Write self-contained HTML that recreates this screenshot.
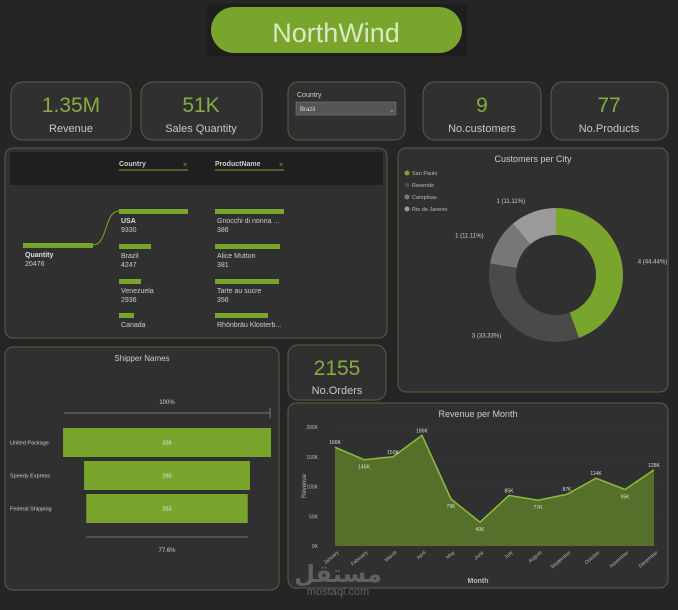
<!DOCTYPE html>
<html><head><meta charset="utf-8"><style>
body{margin:0;width:678px;height:610px;background:#252525;overflow:hidden;font-family:"Liberation Sans",sans-serif;}
svg{position:absolute;left:0;top:0}
</style></head><body>
<svg width="678" height="610" viewBox="0 0 678 610" font-family="Liberation Sans, sans-serif">
<rect x="0" y="0" width="678" height="610" fill="#252525"/>
<g>
<rect x="207" y="4" width="260" height="52" fill="#1a1a1a" opacity="0.6"/>
<rect x="211" y="7" width="251" height="46" rx="23" fill="#7aa52c"/>
<text x="336" y="42" text-anchor="middle" font-size="27" fill="#d9e9c6">NorthWind</text>
</g>
<g>
<rect x="11" y="82" width="120" height="58" rx="12" fill="#303030" stroke="#56613e"/>
<text x="71" y="112" text-anchor="middle" font-size="21" fill="#86ac40">1.35M</text>
<text x="71" y="132" text-anchor="middle" font-size="11" fill="#c8c8c8">Revenue</text></g>
<g>
<rect x="141" y="82" width="121" height="58" rx="12" fill="#303030" stroke="#56613e"/>
<text x="201" y="112" text-anchor="middle" font-size="21" fill="#86ac40">51K</text>
<text x="201" y="132" text-anchor="middle" font-size="11" fill="#c8c8c8">Sales Quantity</text></g>
<g>
<rect x="288" y="82" width="117" height="58" rx="10" fill="#303030" stroke="#56613e"/>
<text x="297" y="97" font-size="7" fill="#cfcfcf">Country</text>
<rect x="296" y="102" width="100" height="13" fill="#555" stroke="#888" stroke-width="0.5"/>
<text x="300" y="111" font-size="6" fill="#ddd">Brazil</text>
<text x="389" y="112" font-size="7" fill="#bbb">⌄</text></g>
<g>
<rect x="423" y="82" width="118" height="58" rx="12" fill="#303030" stroke="#56613e"/>
<text x="482" y="112" text-anchor="middle" font-size="21" fill="#86ac40">9</text>
<text x="482" y="132" text-anchor="middle" font-size="11" fill="#c8c8c8">No.customers</text></g>
<g>
<rect x="551" y="82" width="117" height="58" rx="12" fill="#303030" stroke="#56613e"/>
<text x="609" y="112" text-anchor="middle" font-size="21" fill="#86ac40">77</text>
<text x="609" y="132" text-anchor="middle" font-size="11" fill="#c8c8c8">No.Products</text></g>

<g>
<rect x="5" y="148" width="382" height="190" rx="8" fill="#303030" stroke="#56613e"/>
<rect x="10" y="152" width="373" height="33" fill="#1f1f1f"/>
<text x="119" y="166" font-size="7" font-weight="bold" fill="#ccc">Country</text>
<line x1="119" y1="170" x2="188" y2="170" stroke="#7aa52c"/>
<text x="183" y="167" font-size="7" fill="#999">×</text>
<text x="215" y="166" font-size="7" font-weight="bold" fill="#ccc">ProductName</text>
<line x1="215" y1="170" x2="284" y2="170" stroke="#7aa52c"/>
<text x="279" y="167" font-size="7" fill="#999">×</text>
<rect x="23" y="243" width="70" height="5" fill="#7aa52c"/>
<text x="25" y="257" font-size="7" font-weight="bold" fill="#ddd">Quantity</text>
<text x="25" y="266" font-size="7" fill="#ccc">20476</text>
<path d="M93 245 C108 245,104 211,119 211" stroke="#7aa52c" fill="none"/>
<rect x="119" y="209" width="69" height="5" fill="#7aa52c"/><text x="121" y="223" font-size="7" font-weight="bold" fill="#ddd">USA</text><text x="121" y="232" font-size="7" fill="#ccc">9330</text>
<rect x="119" y="244" width="32" height="5" fill="#7aa52c"/><text x="121" y="258" font-size="7" fill="#ccc">Brazil</text><text x="121" y="267" font-size="7" fill="#ccc">4247</text>
<rect x="119" y="279" width="22" height="5" fill="#7aa52c"/><text x="121" y="293" font-size="7" fill="#ccc">Venezuela</text><text x="121" y="302" font-size="7" fill="#ccc">2936</text>
<rect x="119" y="313" width="15" height="5" fill="#7aa52c"/><text x="121" y="327" font-size="7" fill="#ccc">Canada</text>
<rect x="215" y="209" width="69" height="5" fill="#7aa52c"/><text x="217" y="223" font-size="7" fill="#ccc">Gnocchi di nonna ...</text><text x="217" y="232" font-size="7" fill="#ccc">386</text>
<rect x="215" y="244" width="65" height="5" fill="#7aa52c"/><text x="217" y="258" font-size="7" fill="#ccc">Alice Mutton</text><text x="217" y="267" font-size="7" fill="#ccc">381</text>
<rect x="215" y="279" width="64" height="5" fill="#7aa52c"/><text x="217" y="293" font-size="7" fill="#ccc">Tarte au sucre</text><text x="217" y="302" font-size="7" fill="#ccc">356</text>
<rect x="215" y="313" width="53" height="5" fill="#7aa52c"/><text x="217" y="327" font-size="7" fill="#ccc">Rhönbräu Klosterb...</text>
</g>

<g id="donut">
<rect x="398" y="148" width="270" height="244" rx="8" fill="#303030" stroke="#56613e"/>
<text x="533" y="162" text-anchor="middle" font-size="9" fill="#ccc">Customers per City</text>
</g>

<g id="funnel">
<rect x="5" y="347" width="274" height="243" rx="8" fill="#303030" stroke="#56613e"/>
<text x="142" y="361" text-anchor="middle" font-size="8" fill="#ccc">Shipper Names</text>
</g>

<g>
<rect x="288" y="345" width="98" height="55" rx="10" fill="#303030" stroke="#56613e"/>
<text x="337" y="375" text-anchor="middle" font-size="21" fill="#86ac40">2155</text>
<text x="337" y="394" text-anchor="middle" font-size="11" fill="#c8c8c8">No.Orders</text></g>

<g id="area">
<rect x="288" y="403" width="380" height="185" rx="8" fill="#303030" stroke="#56613e"/>
<text x="478" y="417" text-anchor="middle" font-size="9" fill="#ccc">Revenue per Month</text>
<text x="306" y="486" font-size="6" fill="#bbb" transform="rotate(-90 306 486)" text-anchor="middle">Revenue</text>
<text x="478" y="583" text-anchor="middle" font-size="7" fill="#bbb" font-weight="bold">Month</text>
</g>
<text x="338" y="582" text-anchor="middle" font-size="24" font-weight="bold" fill="#8a8a8a" opacity="0.55" font-family="DejaVu Sans, sans-serif">مستقل</text>
<text x="338" y="595" text-anchor="middle" font-size="11" fill="#8a8a8a" opacity="0.6">mostaql.com</text>
</svg>
<script>
const NS='http://www.w3.org/2000/svg';
function mk(t,a,p){const e=document.createElementNS(NS,t);for(const k in a)e.setAttribute(k,a[k]);p.appendChild(e);return e;}
// Donut data
const cities=['San Paulo','Resende','Campinas','Rio de Janeiro'];
const cityCounts=[4,3,1,1];
const cityColors=['#7aa52c','#4a4a4a','#777777','#9a9a9a'];
// Funnel data
const shippers=['United Package','Speedy Express','Federal Shipping'];
const shipperOrders=[326,260,253];
// Area data
const months=['January','February','March','April','May','June','July','August','September','October','November','December'];
const revenue=[166,145,150,186,79,40,85,77,87,114,95,128];
const revTicks=[0,50,100,150,200];

// donut
(function(){
 const g=document.getElementById('donut');const cx=556,cy=275,R=67,r=40;
 const tot=cityCounts.reduce((a,b)=>a+b,0);let a0=-Math.PI/2;
 cityCounts.forEach((v,i)=>{
  const a1=a0+v/tot*2*Math.PI;const lg=(a1-a0)>Math.PI?1:0;
  const p=(rr,a)=>[cx+rr*Math.cos(a),cy+rr*Math.sin(a)];
  const [x1,y1]=p(R,a0),[x2,y2]=p(R,a1),[x3,y3]=p(r,a1),[x4,y4]=p(r,a0);
  const s=mk('path',{d:`M${x1} ${y1}A${R} ${R} 0 ${lg} 1 ${x2} ${y2}L${x3} ${y3}A${r} ${r} 0 ${lg} 0 ${x4} ${y4}Z`,fill:cityColors[i]},g);
  
  
  const am=(a0+a1)/2;const [lx,ly]=p(R+12,am);
  const t=mk('text',{x:lx+(Math.cos(am)>0?4:-4),y:ly+2,'font-size':6,fill:'#ccc','text-anchor':Math.cos(am)>0?'start':'end'},g);
  t.textContent=v+' ('+(v/tot*100).toFixed(2)+'%)';
  
  
  const lgd=mk('circle',{cx:407,cy:173+i*12,r:2.5,fill:cityColors[i]},g);
  
  
  const lt=mk('text',{x:412,y:175+i*12,'font-size':5.5,fill:'#bbb'},g);lt.textContent=cities[i];
  
  
  a0=a1;
 });
})();

// funnel
(function(){
 const g=document.getElementById('funnel');const cx=167,maxW=208,y0=428,h=29,gap=4;
 const mx=Math.max(...shipperOrders);
 mk('line',{x1:64,y1:413,x2:270,y2:413,stroke:'#777'},g);
 mk('line',{x1:270,y1:408,x2:270,y2:418,stroke:'#777'},g);
 const t0=mk('text',{x:167,y:404,'font-size':6,fill:'#ccc','text-anchor':'middle'},g);t0.textContent='100%';
 shipperOrders.forEach((v,i)=>{
  const w=v/mx*maxW,y=y0+i*(h+gap);
  const b=mk('rect',{x:cx-w/2,y:y,width:w,height:h,fill:'#7aa52c'},g);
  
  
  const vt=mk('text',{x:cx,y:y+h/2+2,'font-size':5.5,fill:'#e8e8e8','text-anchor':'middle'},g);vt.textContent=v;
  const lt=mk('text',{x:10,y:y+h/2+2,'font-size':5.5,fill:'#ccc'},g);lt.textContent=shippers[i];
  
  
 });
 const last=shipperOrders[shipperOrders.length-1]/mx*maxW;
 mk('line',{x1:cx-last/2,y1:537,x2:cx+last/2,y2:537,stroke:'#777'},g);
 const t1=mk('text',{x:167,y:552,'font-size':6,fill:'#ccc','text-anchor':'middle'},g);
 t1.textContent=(shipperOrders[shipperOrders.length-1]/mx*100).toFixed(1)+'%';
})();

// area chart
(function(){
 const g=document.getElementById('area');
 const x0=335,x1=654,yb=546,yt=427,vmax=200;
 const X=i=>x0+i*(x1-x0)/(months.length-1);
 const Y=v=>yb-v/vmax*(yb-yt);
 revTicks.forEach(t=>{
  const tl=mk('text',{x:318,y:Y(t)+2,'font-size':5,fill:'#bbb','text-anchor':'end'},g);tl.textContent=t+'K';
  mk('line',{x1:335,y1:Y(t),x2:663,y2:Y(t),stroke:'#444','stroke-dasharray':'1 2','stroke-width':0.5},g);
 });
 let d=`M${X(0)} ${yb}`;revenue.forEach((v,i)=>d+=`L${X(i)} ${Y(v)}`);d+=`L${X(revenue.length-1)} ${yb}Z`;
 const ar=mk('path',{d:d,fill:'#56702c'},g);
 
 
 const ln=mk('polyline',{points:revenue.map((v,i)=>X(i)+','+Y(v)).join(' '),fill:'none',stroke:'#8cbd3a','stroke-width':1.5},g);
 
 
 revenue.forEach((v,i)=>{
  const up=i==0||i==3||i==2||i==6||i==8||i==9||i==11;
  const t=mk('text',{x:X(i),y:up?Y(v)-3:Y(v)+9,'font-size':5,fill:'#ddd','text-anchor':'middle'},g);t.textContent=v+'K';
  
  
  const m=mk('text',{x:X(i)+4,y:553,'font-size':5,fill:'#bbb','text-anchor':'end',transform:`rotate(-40 ${X(i)+4} 553)`},g);m.textContent=months[i];
  
  
 });
})();
</script>
</body></html>
